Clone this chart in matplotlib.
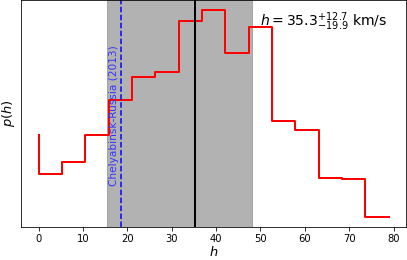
import numpy as np
import matplotlib
matplotlib.use("Agg")
import matplotlib.pyplot as plt

# histogram of h (bin edges) and p(h) step heights
edges = [0.0, 5.26, 10.52, 15.78, 21.04, 26.3, 31.56, 36.82, 42.08,
         47.34, 52.6, 57.86, 63.12, 68.38, 73.64, 78.9]
p_h = [0.0230, 0.0135, 0.0165, 0.0230, 0.0317, 0.0372, 0.0385, 0.0510,
       0.0537, 0.0432, 0.0495, 0.0265, 0.0242, 0.0125, 0.0122, 0.0030]

h_med = 35.3
h_up = 12.7
h_lo = 19.9
chely_h = 18.6
chely_label = "Chelyabinsk-Russia (2013)"

fig = plt.figure(figsize=(407 / 72, 260 / 72), dpi=72)
ax = fig.add_axes([0.052, 0.127, 0.946, 0.873])

ax.step(edges, p_h, color="red", lw=2)
ax.axvspan(h_med - h_lo, h_med + h_up, color="gray", alpha=0.6)
ax.axvline(h_med, color="black", lw=2)
ax.axvline(chely_h, color="blue", ls="--", lw=1.5)
ax.text(chely_h - 0.5, 0.18, chely_label, rotation=90, color="#3333ff",
        fontsize=10.5, ha="right", va="bottom",
        transform=ax.get_xaxis_transform())
ax.text(0.62, 0.905, r"$h = %.1f^{+%.1f}_{-%.1f}$ km/s" % (h_med, h_up, h_lo),
        transform=ax.transAxes, fontsize=14, va="center")

ax.set_yticks([])
ax.set_xlabel(r"$h$", fontsize=13, labelpad=1)
ax.set_ylabel(r"$p(h)$", fontsize=13, labelpad=4)

fig.savefig("out.png", dpi=72)
